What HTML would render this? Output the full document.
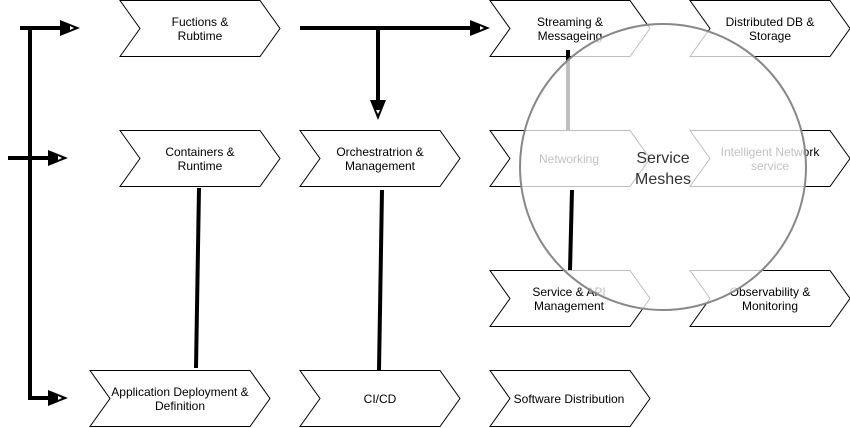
<!DOCTYPE html>
<html><head><style>body{margin:0;background:#fff}svg{display:block}text{font-family:"Liberation Sans",sans-serif;font-size:12px;fill:#000;text-anchor:middle}</style></head><body>
<svg width="850" height="428" viewBox="0 0 850 428">
<g fill="#fff" stroke="#000" stroke-width="1">
<path d="M120,0.5h140l20,28l-20,28h-140l20,-28z"/>
<path d="M490,0.5h140l20,28l-20,28h-140l20,-28z"/>
<path d="M690,0.5h140l20,28l-20,28h-140l20,-28z"/>
<path d="M120,130.5h140l20,28l-20,28h-140l20,-28z"/>
<path d="M300,130.5h140l20,28l-20,28h-140l20,-28z"/>
<path d="M490,130.5h140l20,28l-20,28h-140l20,-28z"/>
<path d="M690,130.5h140l20,28l-20,28h-140l20,-28z"/>
<path d="M490,270.5h140l20,28l-20,28h-140l20,-28z"/>
<path d="M690,270.5h140l20,28l-20,28h-140l20,-28z"/>
<path d="M90,370.5h160l20,28l-20,28h-160l20,-28z"/>
<path d="M300,370.5h140l20,28l-20,28h-140l20,-28z"/>
<path d="M490,370.5h140l20,28l-20,28h-140l20,-28z"/>
</g>
<g stroke="#000" stroke-width="4" fill="none">
<line x1="30" y1="28" x2="30" y2="400"/>
<line x1="20" y1="28" x2="62" y2="28"/>
<line x1="8" y1="158" x2="52" y2="158"/>
<line x1="30" y1="398" x2="52" y2="398"/>
<line x1="300" y1="28" x2="472" y2="28"/>
<line x1="378" y1="28" x2="378" y2="102"/>
<line x1="199" y1="188" x2="196" y2="368"/>
<line x1="382" y1="190" x2="379" y2="370"/>
<line x1="568" y1="50" x2="568" y2="130"/>
</g>
<g fill="#000">
<path d="M60,20 L80,28 L60,36 Z"/>
<path d="M48,150 L68,158 L48,166 Z"/>
<path d="M48,390 L68,398 L48,406 Z"/>
<path d="M470,20 L490,28 L470,36 Z"/>
<path d="M370,100 L378,120 L386,100 Z"/>
</g>
<g fill="#fff">
<path d="M70,26 L74,28 L70,30 Z"/>
<path d="M58,156 L62,158 L58,160 Z"/>
<path d="M58,396 L62,398 L58,400 Z"/>
<path d="M480,26 L484,28 L480,30 Z"/>
<path d="M376,110 L378,114 L380,110 Z"/>
</g>
<text x="200" y="26">Fuctions &amp;</text><text x="200" y="40">Rubtime</text>
<text x="570" y="26">Streaming &amp;</text><text x="570" y="40">Messageing</text>
<text x="770" y="26">Distributed DB &amp;</text><text x="770" y="40">Storage</text>
<text x="200" y="156">Containers &amp;</text><text x="200" y="170">Runtime</text>
<text x="380" y="156">Orchestratrion &amp;</text><text x="380" y="170">Management</text>
<text x="569" y="163">Networking</text>
<text x="770" y="156">Intelligent Network</text><text x="770" y="170">service</text>
<text x="569" y="296">Service &amp; API</text><text x="569" y="310">Management</text>
<text x="770" y="296">Observability &amp;</text><text x="770" y="310">Monitoring</text>
<text x="180" y="396">Application Deployment &amp;</text><text x="180" y="410">Definition</text>
<text x="380" y="403">CI/CD</text>
<text x="569" y="403">Software Distribution</text>
<circle cx="663" cy="167" r="143" fill="#fff" fill-opacity="0.75" stroke="#888" stroke-width="2"/>
<line x1="572" y1="190" x2="570" y2="270" stroke="#000" stroke-width="4"/>
<text x="663" y="163" style="font-size:16px;fill:#333">Service</text>
<text x="663" y="184" style="font-size:16px;fill:#333">Meshes</text>
</svg>
</body></html>
